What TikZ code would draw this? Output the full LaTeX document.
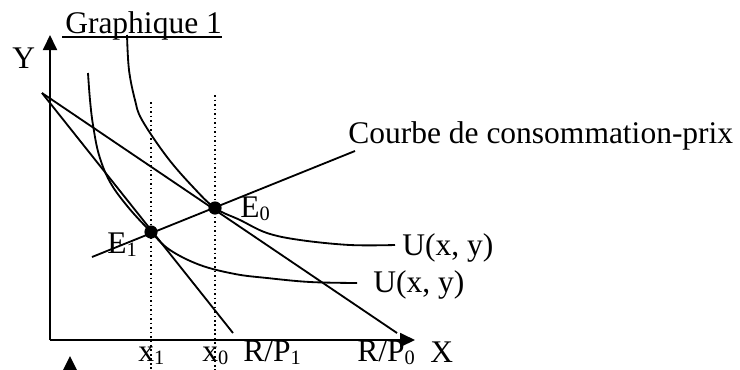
\documentclass[tikz,border=0pt]{standalone}
\usepackage{fontspec}
\setmainfont{Liberation Serif}
\usetikzlibrary{arrows.meta}
\newcommand{\idx}[1]{\raisebox{-2.5pt}{\fontsize{14.5}{15}\selectfont #1}}

\begin{document}
\begin{tikzpicture}[
    x=0.025cm,
    y=-0.025cm,
    >={Triangle[length=3.75mm, width=3.5mm]},
    font=\fontsize{22.4}{26}\selectfont,
    axis/.style={->, line width=1.3pt},
    budget/.style={line width=1.3pt},
    indiff/.style={line width=1.3pt},
    guide/.style={dotted, line width=1.2pt},
    txt/.style={anchor=base west, inner sep=0pt},
    eqdot/.style={circle, fill=black, inner sep=0pt, minimum size=3.3mm}
  ]
  \useasboundingbox (0,0) rectangle (740,369);

  % Axes
  \coordinate (O)    at (50,340);
  \coordinate (ytop) at (50,35);
  \coordinate (xend) at (415,340);
  \draw[axis] (O) -- (ytop);
  \draw[axis] (O) -- (xend);
  \node[txt] (ylab) at (12,68)  {Y};
  \node[txt] (xlab) at (430,362) {X};

  % Title
  \node[txt] (ttl) at (65,33) {Graphique 1};
  \draw[line width=1.2pt] ([xshift=-2pt, yshift=-2.8pt]ttl.base west) -- ([yshift=-2.8pt]ttl.base east);

  % Budget lines
  \coordinate (A)  at (42,93);
  \coordinate (B0) at (397,333);
  \coordinate (B1) at (233,333);
  \draw[budget] (A) -- (B0);
  \draw[budget] (A) -- (B1);

  % Indifference curves
  \draw[indiff] plot[smooth, tension=0.6] coordinates {(127,35) (129,70) (135,100) (142,120)
      (167,157) (193,187) (215,208) (240,220) (267,233) (300,240) (350,245) (395,245)};
  \draw[indiff] plot[smooth, tension=0.6] coordinates {(88,73) (90,100) (93,125) (99,155)
      (110,182) (128,207) (151,232) (170,250) (200,265) (235,274) (267,278) (310,282) (357,283)};
  \node[txt] (u0) at (402,255) {U(x, y)};
  \node[txt] (u1) at (373,292) {U(x, y)};

  % Price-consumption curve
  \coordinate (pc0) at (92,257);
  \coordinate (pc1) at (355,151);
  \draw[budget] (pc0) -- (pc1);
  \node[txt] (pclab) at (348,143) {Courbe de consommation-prix};

  % Dotted guides
  \coordinate (g1top) at (151,102);
  \coordinate (g1bot) at (151,372);
  \coordinate (g0top) at (215,95);
  \coordinate (g0bot) at (215,372);
  \draw[guide] (g1top) -- (g1bot);
  \draw[guide] (g0top) -- (g0bot);

  % Equilibria
  \node[eqdot] (E0) at (215,208) {};
  \node[eqdot] (E1) at (151,232) {};
  \node[txt] (e0lab) at (240,217) {E\idx{0}};
  \node[txt] (e1lab) at (107,253) {E\idx{1}};

  % Axis labels
  \node[txt] (x1lab) at (138,361) {x\idx{1}};
  \node[txt] (x0lab) at (202,361) {x\idx{0}};
  \node[txt] (rp1)   at (243,361) {R/P\idx{1}};
  \node[txt] (rp0)   at (357,361) {R/P\idx{0}};

  % next graph
  \fill (70,356) -- (77.5,371) -- (62.5,371) -- cycle;
\end{tikzpicture}
\end{document}
